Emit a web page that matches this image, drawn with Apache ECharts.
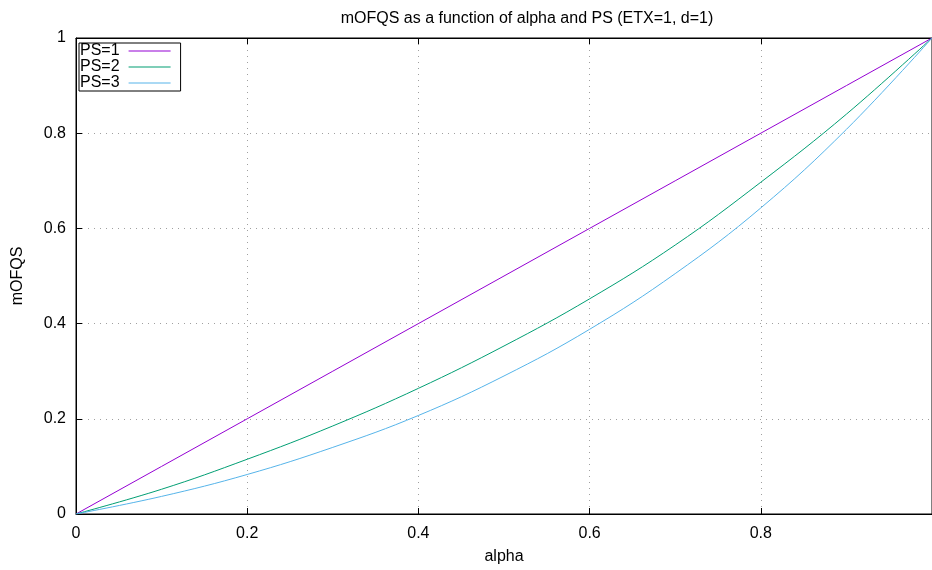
<!DOCTYPE html>
<html lang="en">
<head>
    <meta charset="UTF-8">
    <title>mOFQS</title>
    <script src="https://cdn.jsdelivr.net/npm/echarts@6/dist/echarts.min.js"></script>
</head>
<body style="margin:0">
<div id="main" style="width: 932px;height: 570px"></div>
<script type="text/javascript">
    // values
    var alpha = [0, 0.1, 0.2, 0.3, 0.4, 0.5, 0.6, 0.7, 0.8, 0.9, 1];
    var ps1 = [0, 0.1, 0.2, 0.3, 0.4, 0.5, 0.6, 0.7, 0.8, 0.9, 1];
    var ps2 = [0, 0.052, 0.115, 0.185, 0.264, 0.353, 0.452, 0.565, 0.697, 0.840, 1];
    var ps3 = [0, 0.037, 0.083, 0.140, 0.207, 0.290, 0.388, 0.505, 0.643, 0.808, 1];
    var seriesNames = ['PS=1', 'PS=2', 'PS=3'];
    var colors = ['#9400d3', '#009e73', '#56b4e9'];

    function pairs(ys) {
        var out = [];
        for (var i = 0; i < alpha.length; i++) {
            out.push([alpha[i], ys[i]]);
        }
        return out;
    }

    var font = 'Liberation Sans, Arial, sans-serif';
    var myChart = echarts.init(document.getElementById('main'));
    var option = {
        animation: false,
        textStyle: {fontFamily: font},
        title: {
            text: 'mOFQS as a function of alpha and PS (ETX=1, d=1)',
            left: 522,
            top: 6,
            textAlign: 'center',
            textStyle: {fontSize: 16, fontWeight: 'normal', color: '#000', fontFamily: font}
        },
        legend: {
            left: 79,
            top: 43,
            orient: 'vertical',
            align: 'right',
            itemGap: 0,
            itemWidth: 42,
            itemHeight: 16,
            padding: [0, 10, 0, 1],
            borderColor: '#000',
            borderWidth: 1,
            icon: 'path://M0,7.5 L42,7.5 L42,8.5 L0,8.5 Z',
            textStyle: {fontSize: 16, color: '#000', fontFamily: font, padding: [0, 4, 0, 0]},
            data: seriesNames
        },
        grid: {
            left: 76,
            right: -1,
            top: 38,
            bottom: 55,
            show: true,
            borderColor: '#000',
            borderWidth: 1
        },
        xAxis: [{
            type: 'value',
            min: 0,
            max: 1,
            interval: 0.2,
            name: 'alpha',
            nameLocation: 'middle',
            nameGap: 35,
            nameTextStyle: {fontSize: 16, color: '#000'},
            axisLine: {lineStyle: {color: '#000', width: 1}},
            axisTick: {inside: true, length: 6, lineStyle: {color: '#000'}},
            axisLabel: {fontSize: 16, color: '#000', margin: 12, showMaxLabel: false},
            splitLine: {show: true, lineStyle: {color: '#a0a0a0', type: [1, 5]}}
        }, {
            type: 'value',
            position: 'top',
            min: 0,
            max: 1,
            interval: 0.2,
            axisLine: {show: true, lineStyle: {color: '#000'}},
            axisTick: {inside: true, length: 6, lineStyle: {color: '#000'}},
            axisLabel: {show: false},
            splitLine: {show: false}
        }],
        yAxis: {
            type: 'value',
            min: 0,
            max: 1,
            interval: 0.2,
            name: 'mOFQS',
            nameLocation: 'middle',
            nameRotate: 90,
            nameGap: 50,
            nameTextStyle: {fontSize: 16, color: '#000'},
            axisLine: {show: true, lineStyle: {color: '#000', width: 1}},
            axisTick: {show: true, inside: true, length: 6, lineStyle: {color: '#000'}},
            axisLabel: {fontSize: 16, color: '#000', margin: 10},
            splitLine: {show: true, lineStyle: {color: '#a0a0a0', type: [1, 5]}}
        },
        series: [
            {name: seriesNames[0], type: 'line', data: pairs(ps1)},
            {name: seriesNames[1], type: 'line', smooth: 0.4, data: pairs(ps2)},
            {name: seriesNames[2], type: 'line', smooth: 0.4, data: pairs(ps3)}
        ].map(function (s, i) {
            s.showSymbol = false;
            s.symbol = 'none';
            s.color = colors[i];
            s.lineStyle = {width: 1, color: colors[i]};
            return s;
        })
    };
    myChart.setOption(option);
</script>
</body>
</html>
